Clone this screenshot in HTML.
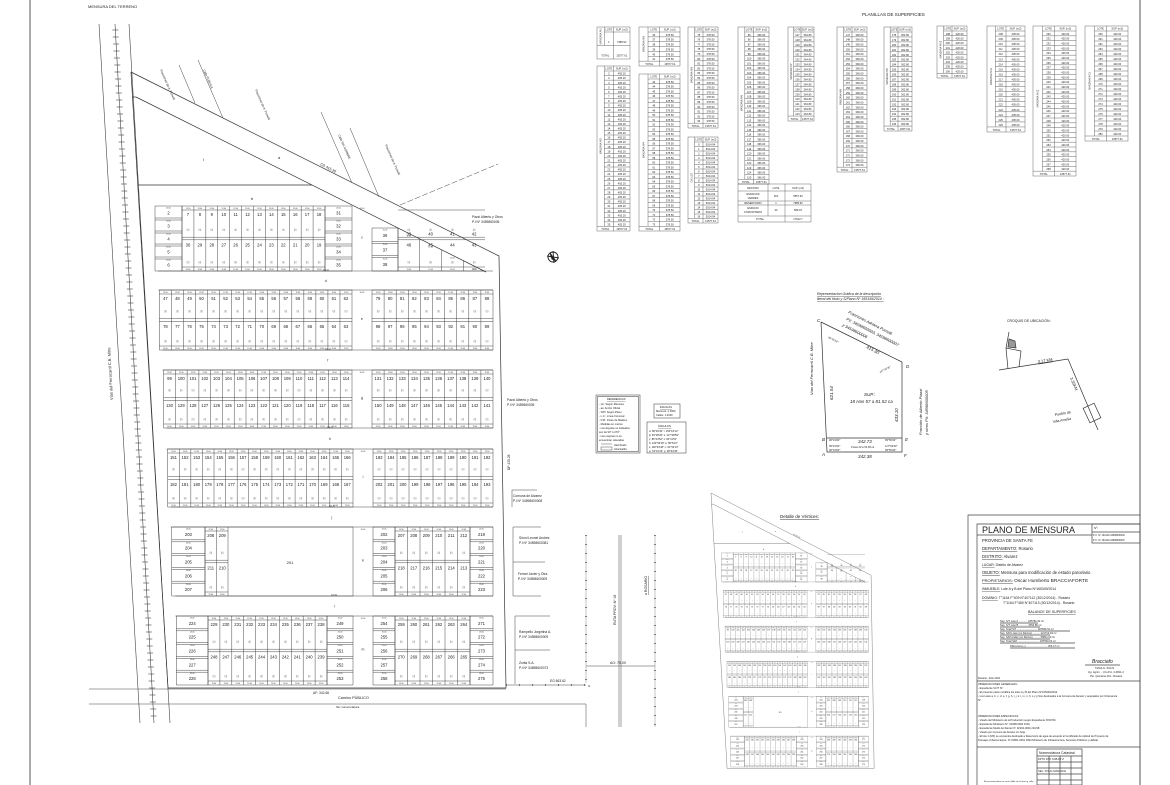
<!DOCTYPE html>
<html><head><meta charset="utf-8">
<style>
html,body{margin:0;padding:0;background:#fff;}
svg{display:block;font-family:"Liberation Sans",sans-serif;}
text{fill:#222;}
</style></head>
<body>
<svg id="s" width="1170" height="785" viewBox="0 0 1170 785" xmlns="http://www.w3.org/2000/svg">
<rect width="1170" height="785" fill="#fff"/>
<!-- frame -->
<line x1="30" y1="0" x2="30" y2="785" stroke="#555" stroke-width="1"/>
<line x1="1140" y1="0" x2="1140" y2="785" stroke="#555" stroke-width="1"/>
<text x="88" y="8" font-size="4">MENSURA DEL TERRENO</text>
<text x="862" y="16" font-size="4.5">PLANILLAS DE SUPERFICIES</text>

<!-- railway -->
<g stroke="#444" stroke-width="0.6" fill="none">
<line x1="99" y1="24" x2="140" y2="723"/>
<line x1="129" y1="24" x2="170" y2="723"/>
<line x1="115" y1="24" x2="154" y2="723"/>
</g>
<g id="ties" stroke="#444" stroke-width="0.6"></g>
<text font-size="4" transform="translate(113,400) rotate(-93)">Vías del Ferrocarril C.B. Mitre</text>

<!-- parcel main group -->
<g id="parcel">
<g stroke="#333" stroke-width="0.7" fill="none">
<polyline points="131,72 499,256 506,688 168,688 131,72"/>
<line x1="136" y1="97" x2="486" y2="272"/>
<line x1="138" y1="185" x2="312" y2="185"/>
<line x1="132" y1="97" x2="136" y2="97"/>
</g>
<g id="blocks" stroke="#333" stroke-width="0.45" fill="none"></g>
<g id="btext" font-size="4.2" text-anchor="middle"></g>
<text x="203" y="161" font-size="4">I</text>
<text x="278" y="159" font-size="4">a</text>
<text x="251" y="200" font-size="4">b</text>
<text font-size="3.6" transform="translate(320,165) rotate(27)">CD 415.30</text>
</g>
<!-- detalle de vertices: scaled copy -->
<use href="#parcel" transform="translate(711,493) scale(0.435,0.447) translate(-131,-72)"/>
<text x="780" y="518" font-size="4.5" text-decoration="underline">Detalle de Vértices:</text>

<!-- rays -->
<g stroke="#444" stroke-width="0.5">
<line x1="179" y1="65" x2="195" y2="103"/>
<line x1="198" y1="60" x2="223" y2="118"/>
<line x1="321" y1="112" x2="352" y2="183"/>
<line x1="350" y1="128" x2="379" y2="197"/>
<line x1="400" y1="205" x2="498" y2="164" stroke-dasharray="6,2"/>
</g>
<g font-size="3">
<text transform="translate(203,70) rotate(66)">Calle PUBLICA</text>
<text transform="translate(160,70) rotate(66)">Fracciones de A. Pumelli</text>
<text transform="translate(255,90) rotate(66)">Fracciones de A. Pumelli</text>
<text transform="translate(338,135) rotate(66)">Calle SIN NOMBRE</text>
<text transform="translate(385,145) rotate(66)">Fracciones de A. Pumelli</text>
</g>

<!-- right side neighbors -->
<g font-size="3.3">
<text x="472" y="218">Pazzi Alberto y Otros</text><text x="472" y="223">P.I Nº 3459860005</text>
<text x="507" y="401">Pazzi Alberto y Otros</text><text x="507" y="406">P.I Nº 3459860005</text>
<text x="513" y="497">Comuna de Alvarez</text><text x="513" y="502">P.I Nº 34598600008</text>
<text x="519" y="539">Sironi Leonel Andrés</text><text x="519" y="544">P.I Nº 34598600081</text>
<text x="518" y="575">Ferrari Javier y Otra</text><text x="518" y="580">P.I Nº 34598600009</text>
<text x="519" y="633">Rampello Jorgelina A.</text><text x="519" y="638">P.I Nº 34598600009</text>
<text x="519" y="664">Zorila S.A.</text><text x="519" y="669">P.I Nº 34598600073</text>
<text x="550" y="682">EG 663.62</text>
<text x="313" y="694">AF: 342.66</text>
<text x="338" y="699" font-size="3.8">Camino PÚBLICO</text>
<text x="336" y="708" font-size="3">Sin nomenclatura</text>
<text transform="translate(510,470) rotate(-90)">DP 435.28</text>
</g>
<g stroke="#444" stroke-width="0.5" fill="none">
<polyline points="537,490 512,490 512,507"/>
<polyline points="541,527 513,527 513,596 541,596"/><line x1="513" y1="562" x2="545" y2="562"/>
<polyline points="550,616 515,616 515,684"/><line x1="515" y1="650" x2="550" y2="650"/>
<line x1="506" y1="685" x2="586" y2="685"/>
<line x1="89" y1="689" x2="506" y2="689"/>
<line x1="89" y1="704" x2="586" y2="704"/>
<line x1="586" y1="704" x2="586" y2="727"/>
<line x1="586" y1="535" x2="586" y2="683" stroke-dasharray="1,8"/>
<line x1="586" y1="535" x2="586" y2="683" stroke-width="0.3"/>
<line x1="655" y1="535" x2="655" y2="727" stroke-width="0.3"/>
<line x1="655" y1="535" x2="655" y2="727" stroke-dasharray="1,8" stroke-width="1.4"/>
<line x1="586" y1="535" x2="586" y2="683" stroke-dasharray="1,8" stroke-width="1.4"/>
<line x1="619" y1="535" x2="619" y2="727"/><line x1="621" y1="535" x2="621" y2="727"/>
<line x1="586" y1="666" x2="655" y2="666"/>
<line x1="506" y1="685" x2="586" y2="685" stroke-dasharray="1,12" stroke-width="1.4"/>
</g>
<text x="610" y="664" font-size="3.5">AO: 75.00</text>
<text x="588" y="687" font-size="3">G</text>
<text font-size="3.5" transform="translate(616,625) rotate(-90)">RUTA PROV. Nº 18</text>
<text font-size="3.5" transform="translate(647,595) rotate(-90)" text-decoration="underline">a ROSARIO</text>

<!-- north arrow -->
<g transform="translate(553,257)" stroke="#222" fill="none" stroke-width="0.9">
<circle r="5"/><path d="M-6,-1 L6,1 M0,-6 L1,6"/><path d="M-3,-4 L3,4 L-1,2 Z" fill="#222"/>
</g>

<!-- references -->
<g stroke="#555" stroke-width="0.6" fill="none">
<rect x="596" y="395" width="44" height="58"/><rect x="597.5" y="396.5" width="41" height="55"/>
<rect x="654" y="404" width="26" height="14"/><rect x="647" y="422" width="39" height="31"/>
</g>
<g font-size="2.6">
<text x="607" y="400" text-decoration="underline">REFERENCIAS</text>
<text x="599" y="405">- sm: Según Mensura</text><text x="599" y="409">- ao: Ancho Oficial</text>
<text x="599" y="413">- S/Pl: Según Plano</text><text x="599" y="417">- L.C.: Línea Comunal</text>
<text x="599" y="421">- P.M.: Poste de Madera</text><text x="599" y="425">- Medidas en metros</text>
<text x="599" y="429">- Los ángulos no indicados</text><text x="599" y="433">son de 90° ó 270°</text>
<text x="599" y="437">- Las mejoras no se</text><text x="599" y="441">encuentran relevadas</text>
<text x="614" y="446">Alambrado</text><text x="614" y="450">Alcantarilla</text>
<text x="660" y="408" text-decoration="underline">ESCALAS</text>
<text x="656" y="412">Mensura: 1:1000</text><text x="656" y="416">Calles: 1:2000</text>
<text x="658" y="427" text-decoration="underline">ÁNGULOS:</text>
<text x="649" y="432">α: 89°33'43"  ι: 153°16'14"</text><text x="649" y="436">β: 93°28'26"  κ: 117°48'59"</text>
<text x="649" y="440">γ: 86°24'52"  λ: 90°11'51"</text><text x="649" y="444">δ: 120°59'18"  μ: 89°54'4"</text>
<text x="649" y="448">ε: 118°43'48"  ν: 91°53'13"</text><text x="649" y="452">φ: 63°16'14"  ρ: 28°43'46"</text>
</g>
<g stroke="#555" stroke-width="0.5"><line x1="601" y1="444" x2="612" y2="444"/><rect x="601" y="447" width="11" height="3" fill="none"/></g>

<!-- Representación gráfica -->
<text x="817" y="295" font-size="3.5" font-style="italic" text-decoration="underline">Representación Gráfica de la descripción</text>
<text x="817" y="300" font-size="3.5" font-style="italic" text-decoration="underline">literal del título y  S/Plano Nº 165349/2014 :</text>
<g stroke="#333" stroke-width="0.7" fill="none">
<polyline points="821,322 902,362 902,452 827,452 821,322"/>
<line x1="827" y1="438" x2="902" y2="438"/>
</g>
<g font-size="4.5" font-style="italic">
<text x="817" y="322">C</text><text x="906" y="368">D</text><text x="905" y="441">E</text><text x="904" y="457">F</text>
<text x="822" y="456">A</text><text x="822" y="441">B</text>
<text transform="translate(866,348) rotate(27)">415.30</text>
<text transform="translate(833,400) rotate(-90)">621.54</text>
<text transform="translate(898,422) rotate(-90)">433.10</text>
<text x="864" y="396">SUP.:</text><text x="850" y="403">18 Has 57 a 81.52 ca</text>
<text x="858" y="443">342.73</text><text x="858" y="458">342.38</text>
<text transform="translate(813,395) rotate(-90)" font-size="4">Vías del Ferrocarril C.B. Mitre</text>
<text transform="translate(848,313) rotate(27)" font-size="4">Fracciones Adriana Pumelli</text>
<text transform="translate(846,320) rotate(27)" font-size="4">PII: 34598600003, 34598600007</text>
<text transform="translate(842,326) rotate(27)" font-size="4">y 34598600006</text>
<text transform="translate(922,435) rotate(-90)" font-size="4">Fracción de Alberto Piazzi</text>
<text transform="translate(928,435) rotate(-90)" font-size="4">y otros PII: 34598600005</text>
</g>
<g font-size="2.6" font-style="italic">
<text x="829" y="441">90°19'00"</text><text x="829" y="447">89°41'00"</text><text x="829" y="451">90°19'00"</text>
<text x="885" y="441">89°56'30"</text><text x="885" y="447">117°03'30"</text><text x="885" y="451">89°56'30"</text>
<text x="851" y="448">0 Has 20 a 54.86 ca</text>
<text transform="translate(828,338) rotate(27)">89°50'50"</text>
<text transform="translate(880,373) rotate(-27)">117°02'30"</text>
</g>

<!-- croquis -->
<text x="1007" y="322" font-size="3.5">CROQUIS DE UBICACIÓN:</text>
<g stroke="#333" stroke-width="0.7" fill="none">
<line x1="999" y1="370" x2="1068" y2="359"/><line x1="1068" y1="359" x2="1098" y2="430"/>
<polyline points="1009,332 1006,348 1008,369"/><polyline points="1006,348 1021,351 1019,367"/>
<polygon points="1009,339 1015,341 1016,348 1008,347" fill="#999"/>
<g transform="translate(1092,413) rotate(-25)"><rect x="-6" y="-8" width="12" height="16"/></g>
</g>
<text font-size="4" transform="translate(1038,363) rotate(-9)" text-decoration="underline">3.17 KM</text>
<text font-size="4" transform="translate(1070,378) rotate(67)">3.35KM</text>
<text font-size="3.6" x="1055" y="416" transform="rotate(-10 1055 416)">Pueblo de</text>
<text font-size="3.6" x="1053" y="423" transform="rotate(-10 1053 423)">Villa Amelia</text>

<!-- title block -->
<g stroke="#444" stroke-width="0.7" fill="none">
<polyline points="968,785 968,515 1140,515"/>
<polyline points="977,785 977,524 1140,524"/>
<line x1="977" y1="535" x2="1092" y2="535"/>
<rect x="1092" y="524" width="48" height="19"/><line x1="1092" y1="532" x2="1140" y2="532"/>
<line x1="977" y1="681" x2="1140" y2="681"/>
<line x1="977" y1="747" x2="1140" y2="747"/>
<rect x="1037" y="749" width="45" height="36"/>
<line x1="1037" y1="756" x2="1082" y2="756"/><line x1="1037" y1="762" x2="1082" y2="762"/><line x1="1037" y1="768" x2="1082" y2="768"/><line x1="1037" y1="774" x2="1082" y2="774"/><line x1="1037" y1="780" x2="1082" y2="780"/>
<line x1="1049" y1="756" x2="1049" y2="785"/><line x1="1060" y1="756" x2="1060" y2="785"/><line x1="1071" y1="756" x2="1071" y2="785"/>
<line x1="1000" y1="623" x2="1038" y2="623"/><line x1="1000" y1="627" x2="1040" y2="627"/><line x1="1000" y1="631" x2="1070" y2="631"/>
<line x1="1000" y1="635" x2="1050" y2="635"/><line x1="1000" y1="639" x2="1050" y2="639"/><line x1="1000" y1="643" x2="1075" y2="643"/><line x1="1010" y1="648" x2="1075" y2="648"/>
<line x1="1085" y1="665" x2="1120" y2="665"/>
</g>
<text x="982" y="533" font-size="9">PLANO DE MENSURA</text>
<text x="1094" y="529" font-size="3">Nº:</text>
<text x="1093" y="536" font-size="2.4">P.I.I. Nº 161130-34598600002</text>
<text x="1093" y="541" font-size="2.4">P.I.I. Nº 161130-34598600007</text>
<g font-size="4.2">
<text x="982" y="542">PROVINCIA DE SANTA FE</text>
<text x="982" y="550"><tspan text-decoration="underline">DEPARTAMENTO:</tspan> Rosario</text>
<text x="982" y="558"><tspan text-decoration="underline">DISTRITO:</tspan> Alvarez</text>
<text x="982" y="566" font-size="3.4"><tspan text-decoration="underline">LUGAR:</tspan> Distrito de Alvarez</text>
<text x="982" y="574"><tspan text-decoration="underline">OBJETO:</tspan> Mensura para modificación de estado parcelario</text>
<text x="982" y="582" font-size="4.8"><tspan text-decoration="underline" font-size="4">PROPIETARIOS:</tspan> Oscar Humberto BRACCIAFORTE</text>
<text x="982" y="590" font-size="3.4"><tspan text-decoration="underline">INMUEBLE:</tspan> Lote A y B del Plano Nº165349/2014</text>
<text x="982" y="599" font-size="3.4"><tspan text-decoration="underline">DOMINIO:</tspan> T°1164  F°409  N°407112  (30/12/2014) - Rosario</text>
<text x="1003" y="604" font-size="3.4">T°1164  F°480  N°407113  (30/12/2014) - Rosario</text>
<text x="1028" y="613" font-size="3.6" text-decoration="underline">BALANCE DE SUPERFICIES</text>
</g>
<g font-size="2.6">
<text x="1000" y="622">Sup. S/T Lote A ............ 185781.52 m²</text>
<text x="1000" y="626">Sup. S/T Lote B ............ 2054.86 m²</text>
<text x="1000" y="630">Sup. Total S/T ............................ 187836.51 m²</text>
<text x="1000" y="634">Sup. S/M Lotes (no Rectos) .......... 121710.04 m²</text>
<text x="1000" y="638">Sup. S/M Calles (no Rectos) ......... 65811.00 m²</text>
<text x="1000" y="642">Sup. Total S/M .............................. 187530.04 m²</text>
<text x="1010" y="647">Diferencia (+) ............................. 306.47 m²</text>
<text x="1092" y="663" font-size="5" font-style="italic">Bracciafo</text>
<text x="1095" y="669">TANIA G. SOLIS</text>
<text x="1088" y="673">Ing. Agrim. - I.Co.P.A. 2-0811-4</text>
<text x="1090" y="677">Pte. Quintana 201 - Rosario</text>
<text x="978" y="679">Rosario, Julio 2021</text>
<text x="978" y="685">OBSERVACIONES GENERALES:</text>
<text x="978" y="689">- Expediente SCIT Nº:</text>
<text x="978" y="693">- El presente plano modifica los lotes A y B del Plano Nº165349/2014</text>
<text x="978" y="697">- Los Lotes a, b, c, d, e, f, g, h, i, j, k, l, m, n, ñ, o y p Son destinados a la Comuna de Alvarez y aceptados por Ordenanza</text>
<text x="978" y="701">Nº</text>
<text x="978" y="717">OBSERVACIONES ESPECIFICAS:</text>
<text x="978" y="721">- Visado del Ministerio de la Producción según Expediente Nº00701</text>
<text x="978" y="725">- Expediente Ministerio Nº: 01908-0000 1534</text>
<text x="978" y="729">- Expediente Medio Ambiente Nº: 02102-0001 210/18</text>
<text x="978" y="733">- Visado por Comuna de Alvarez sin hoja</text>
<text x="978" y="737">- El lote 1 (MF) se encuentra destinado a Reservorio de agua de acuerdo al Certificado de Aptitud de Proyecto de</text>
<text x="978" y="741">Drenajes Urbanos Expte. Nº 01801-0001 1824 Ministerio de Infraestructura, Servicios Públicos y Hábitat.</text>
<text x="1039" y="754" font-size="3.4">Nomenclatura Catastral</text>
<text x="1038" y="760">DPTO  DTO  SUB.DT  Z</text>
<text x="1038" y="772">SEC.  POLIG  MANZANA</text>
<text x="984" y="782" font-size="2.2">El presente plano no será válido sin la firma y sello</text>
</g>

<g id="tables" stroke="#444" stroke-width="0.4" fill="none"></g>
<g id="ttext" font-size="2.6" text-anchor="middle"></g>
</svg>
<script>
(function(){
var NS="http://www.w3.org/2000/svg";
function el(parent,tag,attrs,txt){var e=document.createElementNS(NS,tag);for(var k in attrs)e.setAttribute(k,attrs[k]);if(txt!=null)e.textContent=txt;document.getElementById(parent).appendChild(e);return e;}
function L(p,x1,y1,x2,y2){el(p,'line',{x1:x1,y1:y1,x2:x2,y2:y2});}
// ties
for(var y=30;y<720;y+=7){var x=115+(y-24)*39/699;L('ties',x-3,y,x+3,y);}
// blocks
var B='blocks',TT='btext',lot=2;
function xl(y){return 155+(y-206)*25/479;}
function diagY(x){return 97+(x-136)*0.5;}
function num(x,y,fs){el(TT,'text',{x:x,y:y,'font-size':fs||4.2},String(lot++));}
function dims(x0,x1,y,n){var w=(x1-x0)/n;for(var i=0;i<n;i++){el(TT,'text',{x:x0+w*i+w/2,y:y,'font-size':1.8},'12.00');}}
function marks(x0,x1,y,n){var w=(x1-x0)/n;for(var i=0;i<n;i++){var cx=x0+w*i+w/2;el(TT,'text',{x:cx,y:y,'font-size':2.2},'▯▯');}}
function cols(x0,x1,y0,y1,n,diag){
  var w=(x1-x0)/n,m=(y0+y1)/2;
  for(var i=0;i<=n;i++){var x=x0+w*i,t=diag?Math.max(y0,diagY(x)):y0;L(B,x,t,x,y1);}
  if(!diag)L(B,x0,y0,x1,y0);
  L(B,x0,y1,x1,y1);L(B,x0,m-1.3,x1,m-1.3);L(B,x0,m+1.3,x1,m+1.3);
  L(B,x0,y0+4,x1,y0+4);L(B,x0,y1-4,x1,y1-4);
  for(var i=0;i<n;i++){var cx=x0+w*i+w/2;var t=diag?Math.max(y0,diagY(cx)):y0;
    num(cx,Math.min(t+10,m-3));el(TT,'text',{x:cx,y:t+3.2,'font-size':1.8},'12.00');
    el(TT,'text',{x:cx,y:m-8,'font-size':2.4},'▯▯');}
  for(var i=n-1;i>=0;i--){var cx=x0+w*i+w/2;num(cx,m+8);el(TT,'text',{x:cx,y:y1-1,'font-size':1.8},'12.00');el(TT,'text',{x:cx,y:y1-8,'font-size':2.4},'▯▯');}
}
function stack(x0,x1,y0,y1,n){
  var h=(y1-y0)/n;L(B,x0,y0,x1,y0);L(B,x0,y1,x1,y1);L(B,x0,y0,x0,y1);L(B,x1,y0,x1,y1);
  for(var i=1;i<n;i++){L(B,x0,y0+h*i-1,x1,y0+h*i-1);L(B,x0,y0+h*i+1,x1,y0+h*i+1);}
  for(var i=0;i<n;i++){num((x0+x1)/2,y0+h*i+h/2+2);el(TT,'text',{x:(x0+x1)/2,y:y0+h*i+2.6,'font-size':1.8},'25.00');}
}
function street(y0,y1,x0,x1,lbl){L(B,x0,y0,x1,y0);L(B,x0,y1,x1,y1);el(TT,'text',{x:(x0+x1)/2,y:(y0+y1)/2+1.5,'font-size':3.5},lbl);
  el(TT,'text',{x:(x0+x1)/2,y:y0-0.5,'font-size':2},'326.44');}
function vstreet(x0,x1,y0,y1,lbl){el(TT,'text',{x:(x0+x1)/2,y:(y0+y1)/2,'font-size':3.5},lbl);el(TT,'text',{x:(x0+x1)/2,y:y0+3,'font-size':1.8},'20.00');}
// Row1
stack(xl(206),182,206,271,5);cols(182,325,206,271,12);stack(325,352,206,271,5);vstreet(352,372,206,271,'c');
stack(372,398,Math.max(206,diagY(398)),271,3);cols(398,485,206,271,4,true);
street(271,290,xl(271),493,'d');
cols(xl(290),352,290,350,16);vstreet(352,372,290,350,'e');cols(372,493,290,350,10);
street(350,370,xl(350),493,'f');
cols(xl(370),352,370,428,16);vstreet(352,372,370,428,'g');cols(372,493,370,428,10);
street(428,449,xl(428),493,'h');
cols(xl(449),353,449,507,16);vstreet(353,373,449,507,'i');cols(373,493,449,507,10);
street(507,527,xl(507),493,'j');
stack(xl(527),205,527,596,5);cols(205,228,527,596,2);
L(B,228,527,353,527);L(B,228,596,353,596);L(B,353,527,353,596);
el(TT,'text',{x:290,y:564,'font-size':4},'201');lot=202;
vstreet(353,373,527,596,'k');stack(373,395,527,596,5);cols(395,470,527,596,6);stack(470,493,527,596,5);
street(596,616,xl(596),493,'l');
stack(xl(616),208,616,685,5);cols(208,327,616,685,10);stack(327,353,616,685,5);vstreet(353,373,616,685,'m');
stack(373,395,616,685,5);cols(395,470,616,685,6);stack(470,493,616,685,5);
// tables
var TB='tables',TX='ttext';
function rect(x,y,w,h){el(TB,'rect',{x:x,y:y,width:w,height:h});}
function tbl(x,y,w,h,n,label,start,val){
  rect(x,y,w,h);var lc=x+w*0.22,oc=x+w*0.5,hh=5,rh=(h-hh)/(n+1);
  L(TB,lc,y,lc,y+h-rh);L(TB,oc,y,oc,y+h);L(TB,lc,y+hh,x+w,y+hh);L(TB,x,y+h-rh,x+w,y+h-rh);
  el(TX,'text',{x:(lc+oc)/2,y:y+3.5},'LOTE');el(TX,'text',{x:(oc+x+w)/2,y:y+3.5},'SUP. (m2)');
  for(var i=0;i<n;i++){var yy=y+hh+rh*(i+1);if(i<n-1)L(TB,lc,yy,x+w,yy);
    var ty=yy-rh*0.2;el(TX,'text',{x:(lc+oc)/2,y:ty,'font-size':Math.min(2.6,rh*0.8)},String(start+i));
    el(TX,'text',{x:(oc+x+w)/2,y:ty,'font-size':Math.min(2.6,rh*0.8)},val);}
  el(TX,'text',{x:(x+oc)/2,y:y+h-rh*0.2,'font-size':Math.min(2.6,rh*0.8)},'TOTAL');
  el(TX,'text',{x:(oc+x+w)/2,y:y+h-rh*0.2,'font-size':Math.min(2.6,rh*0.8)},'13577.61');
  el(TX,'text',{transform:'translate('+((x+lc)/2+1)+','+(y+(h-rh)/2)+') rotate(-90)','font-size':2.4},label);
}
tbl(597,27,33,32,1,'MANZANA Nº1',1,'7985.52');
tbl(597,66,33,165,34,'MANZANA Nº2',2,'405.20');
tbl(639,27,41,39,6,'MANZANA Nº3',36,'378.50');
tbl(639,74,41,157,31,'MANZANA Nº4',43,'378.50');
tbl(688,27,30,101,19,'MANZANA Nº5',75,'378.50');
tbl(688,137,30,86,17,'CALLES',0,'5014.94');
tbl(738,27,31,157,31,'MANZANA Nº6',95,'366.00');
tbl(788,27,26,94,17,'MANZANA Nº7',127,'364.80');
tbl(837,27,30,145,28,'MANZANA Nº8',147,'360.00');
tbl(884,27,28,104,19,'MANZANA Nº9',178,'362.80');
tbl(937,26,30,52,9,'MANZANA Nº10',198,'420.00');
tbl(987,26,38,106,19,'MANZANA Nº11',208,'405.00');
tbl(1033,26,43,150,29,'MANZANA Nº12',230,'420.00');
tbl(1085,26,43,115,21,'MANZANA Nº13',260,'420.00');
// destino table
rect(738,184,73,38);L(TB,768,184,768,216);L(TB,785,184,785,222);
L(TB,738,191,811,191);L(TB,738,201,811,201);L(TB,738,205,811,205);L(TB,738,216,811,216);
var d=[[753,189,'DESTINO'],[776,189,'LOTE'],[798,189,'SUP. (m2)'],[753,195,'ESPACIOS'],[753,199,'VERDES'],[776,197,'201'],[798,197,'6557.30'],
[753,204,'RESERVORIO'],[776,204,'1'],[798,204,'7985.52'],[753,209,'ESPACIO'],[753,213,'COMUNITARIO'],[776,211,'40'],[798,211,'589.15'],[760,220,'TOTAL'],[798,220,'17022.7']];
d.forEach(function(a){el(TX,'text',{x:a[0],y:a[1]},a[2]);});
})();
</script>
</body></html>
